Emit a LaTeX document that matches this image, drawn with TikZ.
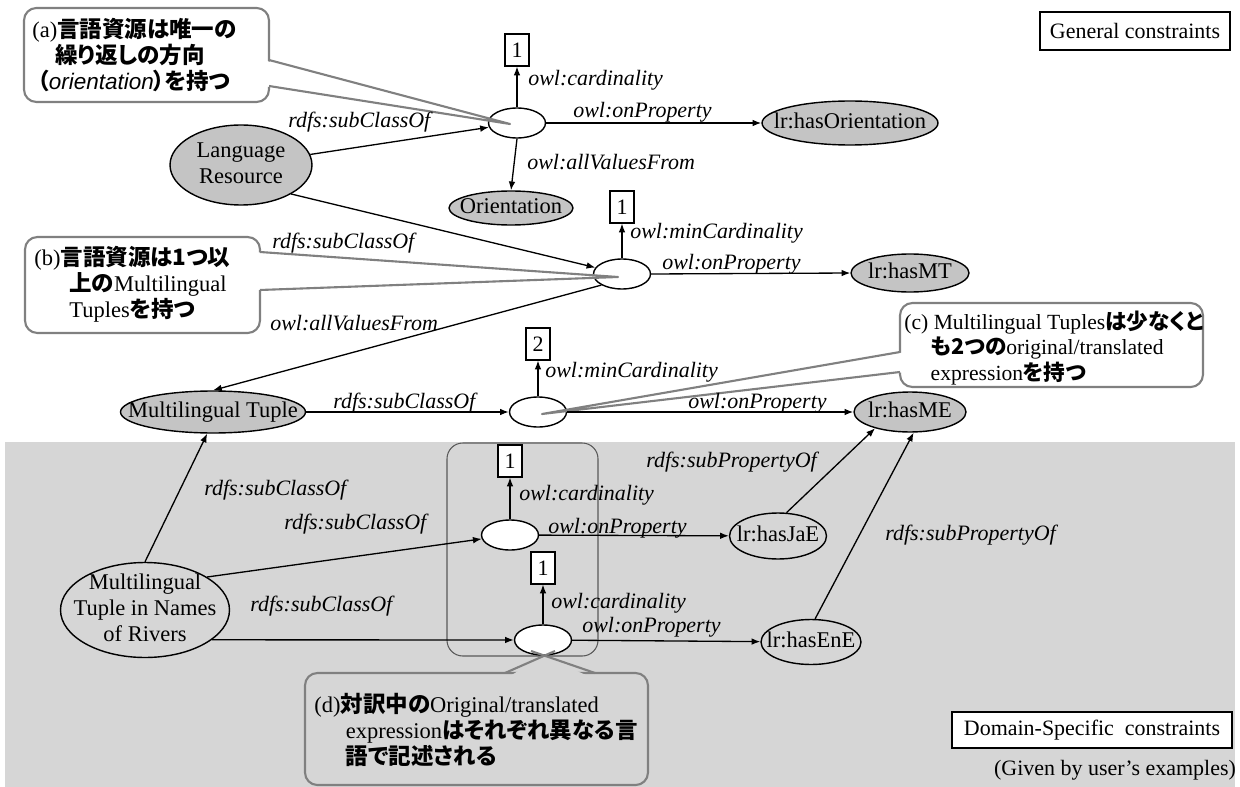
\documentclass[tikz,border=0pt]{standalone}
\usepackage{fontspec}
\setmainfont{Liberation Serif}
\newfontfamily\jafont{Noto Sans CJK JP}[CharacterWidth=AlternateProportional]
\newfontfamily\latinsans{Liberation Sans}
\usetikzlibrary{shapes.geometric, arrows.meta}
\definecolor{bggray}{gray}{0.84}
\definecolor{classgray}{gray}{0.77}
\definecolor{calloutgray}{gray}{0.5}
\definecolor{groupgray}{gray}{0.35}
\newcommand{\ja}[1]{{\jafont\bfseries #1}}
\newcommand{\inside}[1]{\smash{\makebox[0pt]{\raisebox{-0.25em}{\begin{tabular}{@{}c@{}}#1\end{tabular}}}}}

\begin{document}
\begin{tikzpicture}[
    x=0.02cm, y=-0.02cm,
    class/.style={
        ellipse,
        draw,
        line width=0.8pt,
        fill=classgray,
        inner sep=0pt,
        font=\fontsize{12.8}{15}\selectfont
    },
    domclass/.style={
        class,
        fill=bggray
    },
    restriction/.style={
        ellipse,
        draw,
        line width=0.8pt,
        fill=white,
        inner sep=0pt,
        minimum width=1.14cm,
        minimum height=0.6cm
    },
    cardbox/.style={
        rectangle,
        draw,
        line width=0.7pt,
        fill=white,
        inner sep=0pt,
        minimum width=0.48cm,
        minimum height=0.64cm,
        font=\fontsize{12.5}{15}\selectfont
    },
    rel/.style={
        -{Latex[length=5pt, width=3.8pt]},
        line width=0.75pt
    },
    lbl/.style={
        anchor=west,
        inner sep=0pt,
        font=\fontsize{12.5}{15}\selectfont\itshape
    },
    callout/.style={
        draw=calloutgray,
        line width=1.2pt,
        fill=white,
        rounded corners=7pt
    },
    calltext/.style={
        anchor=west,
        align=left,
        inner sep=0pt,
        font=\fontsize{12.8}{14.8}\selectfont
    },
    wedge/.style={
        draw=calloutgray,
        line width=1.2pt,
        line join=round
    },
    constraint/.style={
        rectangle,
        draw,
        line width=0.7pt,
        fill=white,
        inner sep=0pt,
        font=\fontsize{12.5}{15}\selectfont
    }
]

\useasboundingbox (0,0) rectangle (1240,787);

% Domain-specific area
\fill[bggray] (5,442) rectangle (1235,787);
\draw[groupgray, line width=0.6pt, rounded corners=9pt] (447,443) rectangle (598,656);

% ==================== GENERAL CONSTRAINTS ====================
\node[class, minimum width=2.84cm, minimum height=1.6cm] (lr) at (241,165) {\inside{Language\\Resource}};
\node[restriction] (r1) at (517,123) {};
\node[cardbox] (c1a) at (517,50) {1};
\node[class, minimum width=3.52cm, minimum height=0.88cm] (hasor) at (850,123) {\inside{lr:hasOrientation}};
\node[class, minimum width=2.48cm, minimum height=0.68cm] (orient) at (511,208) {\inside{Orientation}};

\node[restriction] (r2) at (622,274) {};
\node[cardbox] (c1b) at (622,207) {1};
\node[class, minimum width=2.36cm, minimum height=0.76cm] (hasmt) at (910,273) {\inside{lr:hasMT}};

\node[restriction] (r3) at (538,412) {};
\node[cardbox] (c2) at (538,344) {2};
\node[class, minimum width=3.7cm, minimum height=0.84cm] (mt) at (213,412) {\inside{Multilingual Tuple}};
\node[class, minimum width=2.24cm, minimum height=0.8cm] (hasme) at (910,412) {\inside{lr:hasME}};

% ==================== DOMAIN-SPECIFIC CONSTRAINTS ====================
\node[domclass, minimum width=3.38cm, minimum height=1.9cm] (mtr) at (145,610) {\inside{Multilingual\\Tuple in Names\\of Rivers}};
\node[restriction] (r4) at (510,535) {};
\node[cardbox] (c1c) at (510,461) {1};
\node[domclass, minimum width=1.94cm, minimum height=0.92cm] (hasjae) at (778,536) {\inside{lr:hasJaE}};
\node[restriction] (r5) at (543,640) {};
\node[cardbox] (c1d) at (543,568) {1};
\node[domclass, minimum width=2cm, minimum height=0.9cm] (hasene) at (811,642) {\inside{lr:hasEnE}};

% Constraint boxes
\node[constraint, minimum width=3.8cm, minimum height=0.76cm] (genbox) at (1135,31) {General constraints};
\node[constraint, minimum width=5.6cm, minimum height=0.72cm] (dombox) at (1092,730) {Domain-Specific\ \ constraints};
\node[font=\fontsize{12.5}{15}\selectfont, inner sep=0pt] (given) at (1115,770) {(Given by user’s examples)};

% ==================== CALLOUTS ====================
\node[callout, minimum width=4.9cm, minimum height=1.88cm] (calla) at (146.5,55) {};
\fill[white] (263,60) -- (510,124) -- (263,86) -- cycle;
\draw[wedge] (269,60) -- (510,124) -- (269,86);
\node[calltext] (calla-txt) at (32,55) {(a)\ja{言語資源は唯一の}\\\hspace*{13pt}\ja{繰り返しの方向}\\\hspace*{3pt}\ja{（}{\latinsans\itshape orientation}\ja{）を持つ}};

\node[callout, minimum width=4.7cm, minimum height=1.92cm] (callb) at (142.5,285) {};
\fill[white] (254,252) -- (618,277) -- (254,290) -- cycle;
\draw[wedge] (260,252) -- (618,277) -- (260,290);
\node[calltext] (callb-txt) at (34,284) {(b)\ja{言語資源は1つ以}\\\hspace*{20pt}\ja{上の}Multilingual\\\hspace*{20pt}Tuples\ja{を持つ}};

\node[callout, minimum width=6.06cm, minimum height=1.68cm] (callc) at (1051.5,345) {};
\fill[white] (906,352) -- (542,414) -- (906,372) -- cycle;
\draw[wedge] (900,352) -- (542,414) -- (900,372);
\node[calltext, font=\fontsize{12.3}{14.5}\selectfont] (callc-txt) at (904,348) {(c) Multilingual Tuples\ja{は少なくと}\\\hspace*{15pt}\ja{も2つの}original/translated\\\hspace*{15pt}expression\ja{を持つ}};

\node[callout, fill=bggray, minimum width=6.86cm, minimum height=2.24cm] (calld) at (476.5,729) {};
\fill[bggray] (505,679) -- (543,656) -- (595,679) -- cycle;
\draw[wedge] (505,673) -- (555,651);
\draw[wedge] (595,673) -- (531,651);
\node[calltext] (calld-txt) at (314,730) {(d)\ja{対訳中の}Original/translated\\\hspace*{18pt}expression\ja{はそれぞれ異なる言}\\\hspace*{18pt}\ja{語で記述される}};

% ==================== RELATIONS ====================
\draw[rel] (lr) -- (r1);
\draw[rel] (r1.north) -- (c1a.south);
\draw[rel] (r1.east) -- (hasor.west);
\draw[rel] (r1.south) -- (orient.north);
\draw[rel] (lr.-30) -- (r2);
\draw[rel] (r2.north) -- (c1b.south);
\draw[rel] (r2.east) -- (hasmt.west);
\draw[rel] (r2.south west) -- (mt.north);
\draw[rel] (mt.east) -- (r3.west);
\draw[rel] (r3.north) -- (c2.south);
\draw[rel] (r3.east) -- (hasme.west);
\draw[rel] (mtr.north) -- (mt.-105);
\draw[rel] (mtr.28) -- (r4);
\draw[rel] (mtr.-24) -- (r5);
\draw[rel] (r4.north) -- (c1c.south);
\draw[rel] (r4) -- (hasjae);
\draw[rel] (r5.north) -- (c1d.south);
\draw[rel] (r5) -- (hasene);
\draw[rel] (hasjae.70) -- (hasme.-155);
\draw[rel] (hasene.80) -- (hasme.-80);

% ==================== LABELS ====================
\node[lbl] (l-sc1) at (288,122) {rdfs:subClassOf};
\node[lbl] (l-card1) at (528,80) {owl:cardinality};
\node[lbl] (l-onp1) at (573,112) {owl:onProperty};
\node[lbl] (l-avf1) at (527,162) {owl:allValuesFrom};
\node[lbl] (l-sc2) at (272,243) {rdfs:subClassOf};
\node[lbl] (l-mincard1) at (630,233) {owl:minCardinality};
\node[lbl] (l-onp2) at (662,264) {owl:onProperty};
\node[lbl] (l-avf2) at (270,323) {owl:allValuesFrom};
\node[lbl] (l-mincard2) at (545,372) {owl:minCardinality};
\node[lbl] (l-sc3) at (333,403) {rdfs:subClassOf};
\node[lbl] (l-onp3) at (688,403) {owl:onProperty};
\node[lbl] (l-sc4) at (204,490) {rdfs:subClassOf};
\node[lbl] (l-sc5) at (284,524) {rdfs:subClassOf};
\node[lbl] (l-card3) at (519,495) {owl:cardinality};
\node[lbl] (l-onp4) at (548,528) {owl:onProperty};
\node[lbl] (l-spo1) at (646,462) {rdfs:subPropertyOf};
\node[lbl] (l-sc6) at (250,606) {rdfs:subClassOf};
\node[lbl] (l-card4) at (551,603) {owl:cardinality};
\node[lbl] (l-onp5) at (582,627) {owl:onProperty};
\node[lbl] (l-spo2) at (885,535) {rdfs:subPropertyOf};

\end{tikzpicture}
\end{document}
